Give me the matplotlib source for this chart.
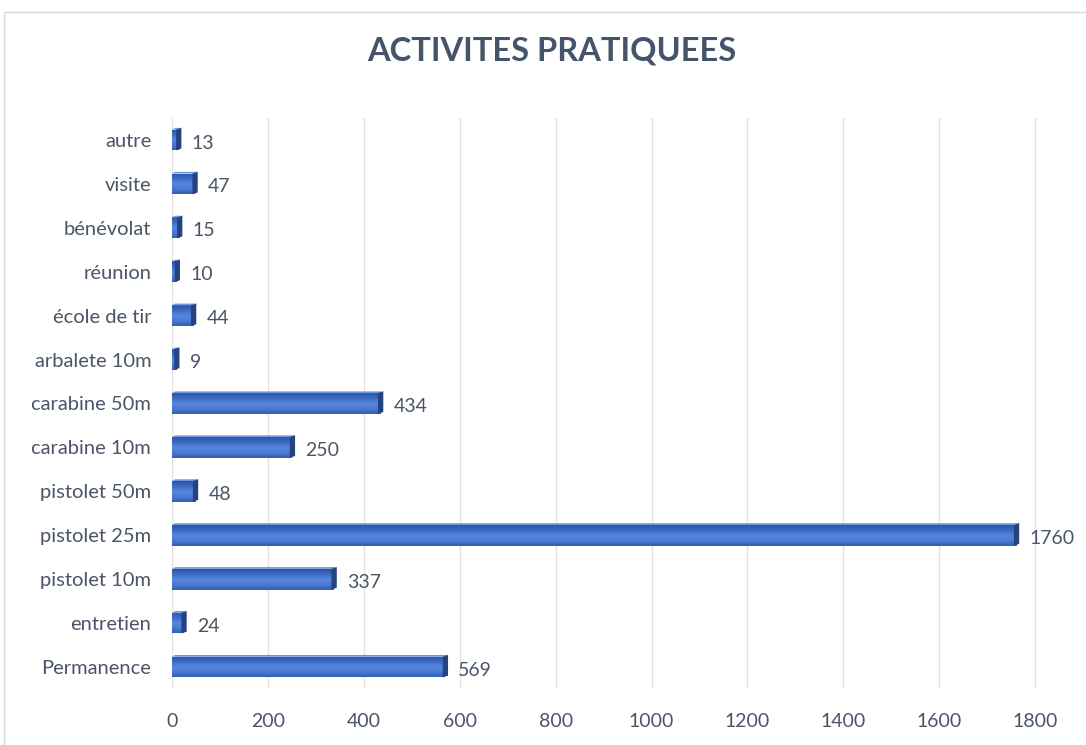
import matplotlib
matplotlib.use("Agg")
import matplotlib.pyplot as plt
from matplotlib.patches import Rectangle, Polygon
from matplotlib.colors import LinearSegmentedColormap
import numpy as np

categories = ["Permanence", "entretien", "pistolet 10m", "pistolet 25m", "pistolet 50m",
              "carabine 10m", "carabine 50m", "arbalete 10m", "école de tir", "réunion",
              "bénévolat", "visite", "autre"]
values = [569, 24, 337, 1760, 48, 250, 434, 9, 44, 10, 15, 47, 13]
xticks = [0, 200, 400, 600, 800, 1000, 1200, 1400, 1600, 1800]
title = "ACTIVITES PRATIQUEES"

W, H = 1086, 745
fig = plt.figure(figsize=(W / 100, H / 100), dpi=100)
fig.patch.set_facecolor("white")

# outer chart frame
fig.patches.append(Rectangle((4 / W, -0.01), 1.2, (H - 12) / H + 0.01, transform=fig.transFigure,
                             fill=False, edgecolor="#d9d9d9", linewidth=1.0))

ax = fig.add_axes([172 / W, 56 / H, 868 / W, 571 / H])
ax.set_xlim(0, 1810)
ax.set_ylim(-0.5, len(categories) - 0.5)
for s in ax.spines.values():
    s.set_visible(False)

txt_col = "#4a5568"
font = "Lato"

# gridlines
for t in xticks:
    ax.axvline(t, color="#e3e3e3", linewidth=1.0, zorder=0)

ax.set_xticks(xticks)
ax.set_xticklabels([str(t) for t in xticks], fontsize=14, color=txt_col, family=font)
ax.tick_params(axis="x", length=0, pad=17)
ax.set_yticks(range(len(categories)))
ax.set_yticklabels(categories, fontsize=14.5, color=txt_col, family=font)
ax.tick_params(axis="y", length=0, pad=15)

# gradient bars
h = 0.47
grad = np.linspace(0, 1, 64).reshape(-1, 1)
cmap = LinearSegmentedColormap.from_list("b", ["#2f5db5", "#4a7bd4", "#5686dc", "#3c6bc4", "#2a56a8"])
cap_w = 11  # data units for 3D end face
for i, v in enumerate(values):
    y0, y1 = i - h / 2, i + h / 2
    im = ax.imshow(grad, extent=(0, v, y0, y1), aspect="auto", cmap=cmap,
                   origin="lower", zorder=2, interpolation="bilinear")
    rect = Rectangle((0, y0), v, h, transform=ax.transData, facecolor="none", edgecolor="none")
    ax.add_patch(rect)
    im.set_clip_path(rect)
    # top lighter face
    ax.add_patch(Polygon([(0, y1), (v, y1), (v + cap_w * 0.6, y1 + 0.04), (cap_w * 0.6, y1 + 0.04)],
                         closed=True, facecolor="#6f95dd", edgecolor="none", zorder=2))
    # right darker face
    ax.add_patch(Polygon([(v - cap_w * 0.4, y0), (v + cap_w * 0.6, y0 + 0.04),
                          (v + cap_w * 0.6, y1 + 0.04), (v - cap_w * 0.4, y1)],
                         closed=True, facecolor="#24437f", edgecolor="none", zorder=3))
    ax.text(v + 28, i - 0.07, str(v), va="center", ha="left", fontsize=14,
            color=txt_col, family=font, zorder=4)

fig.text(552 / W, 1 - 51 / H, title, ha="center", va="center", fontsize=23.5,
         fontweight="bold", color="#44546a", family=font)

fig.savefig("out.png", dpi=100)
